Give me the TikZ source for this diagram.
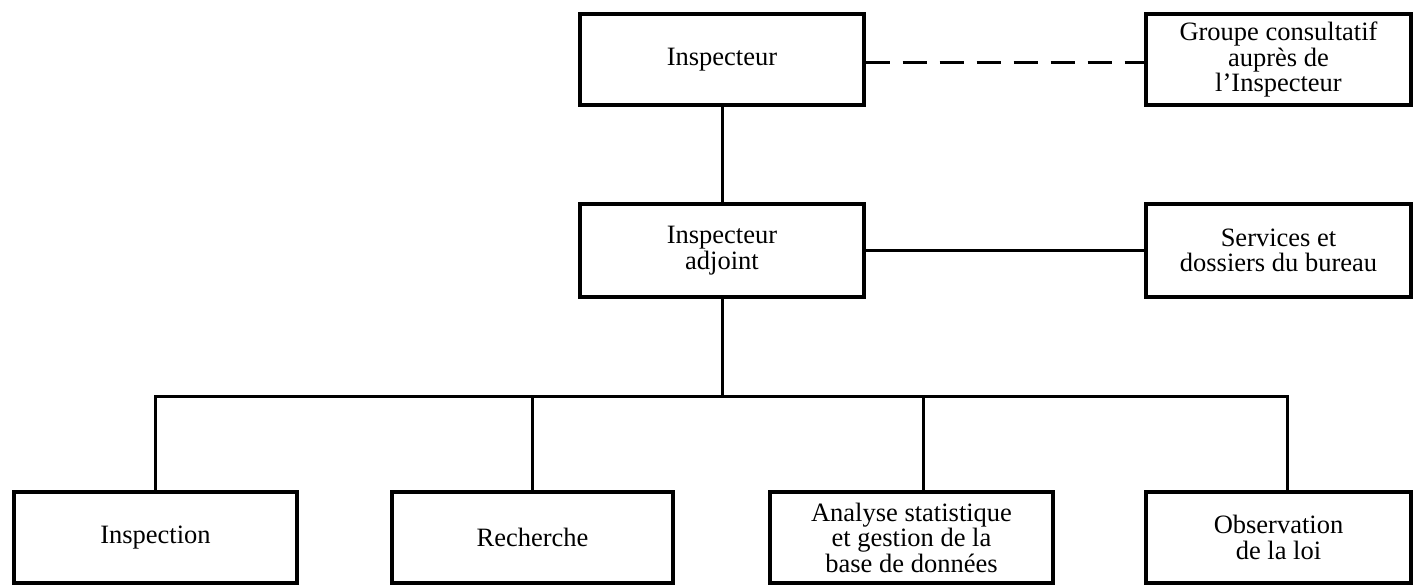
\documentclass[tikz,border=0pt]{standalone}
\usepackage{fontspec}
\setmainfont{Liberation Serif}
\begin{document}
\begin{tikzpicture}[x=1pt,y=-1pt,
  unit/.style={draw, line width=3.2pt, inner sep=0pt, align=center,
    font=\fontsize{26.5}{25.5}\selectfont},
  link/.style={line width=3pt},
  advice/.style={line width=3pt, dash pattern=on 24pt off 13pt}]
\useasboundingbox (0,0) rectangle (1415,585);

% top level
\node[unit, minimum width=284pt, minimum height=91pt] (insp) at (722,59.5) {Inspecteur};
\node[unit, minimum width=265pt, minimum height=91pt] (groupe) at (1278.5,59.5)
  {Groupe consultatif\\auprès de\\l’Inspecteur};

% second level
\node[unit, minimum width=284pt, minimum height=93pt] (adj) at (722,250.5) {Inspecteur\\adjoint};
\node[unit, minimum width=265pt, minimum height=93pt] (serv) at (1278.5,250.5)
  {Services et\\dossiers du bureau};

% divisions
\node[unit, minimum width=283pt, minimum height=91pt] (inspection) at (155.5,537.5) {Inspection};
\node[unit, minimum width=281pt, minimum height=91pt] (recherche) at (532.5,537.5) {Recherche};
\node[unit, minimum width=283pt, minimum height=91pt] (analyse) at (911.5,537.5)
  {Analyse statistique\\et gestion de la\\base de données};
\node[unit, minimum width=265pt, minimum height=91pt] (observation) at (1278.5,537.5)
  {Observation\\de la loi};

% connectors
\draw[link] (insp.south) -- (adj.north);
\draw[advice] ([yshift=-3pt]insp.east) -- ([yshift=-3pt]insp.east -| groupe.west);
\draw[link] (adj.east) -- (serv.west);

\coordinate (bus) at (722,396);
\draw[link] (adj.south) -- (bus);
\draw[link] (inspection.north) |- (bus) -| ([xshift=8.5pt]observation.north);
\draw[link] (recherche.north) -- (recherche.north |- bus);
\draw[link] ([xshift=11.5pt]analyse.north) -- ([xshift=11.5pt]analyse.north |- bus);
\end{tikzpicture}
\end{document}
